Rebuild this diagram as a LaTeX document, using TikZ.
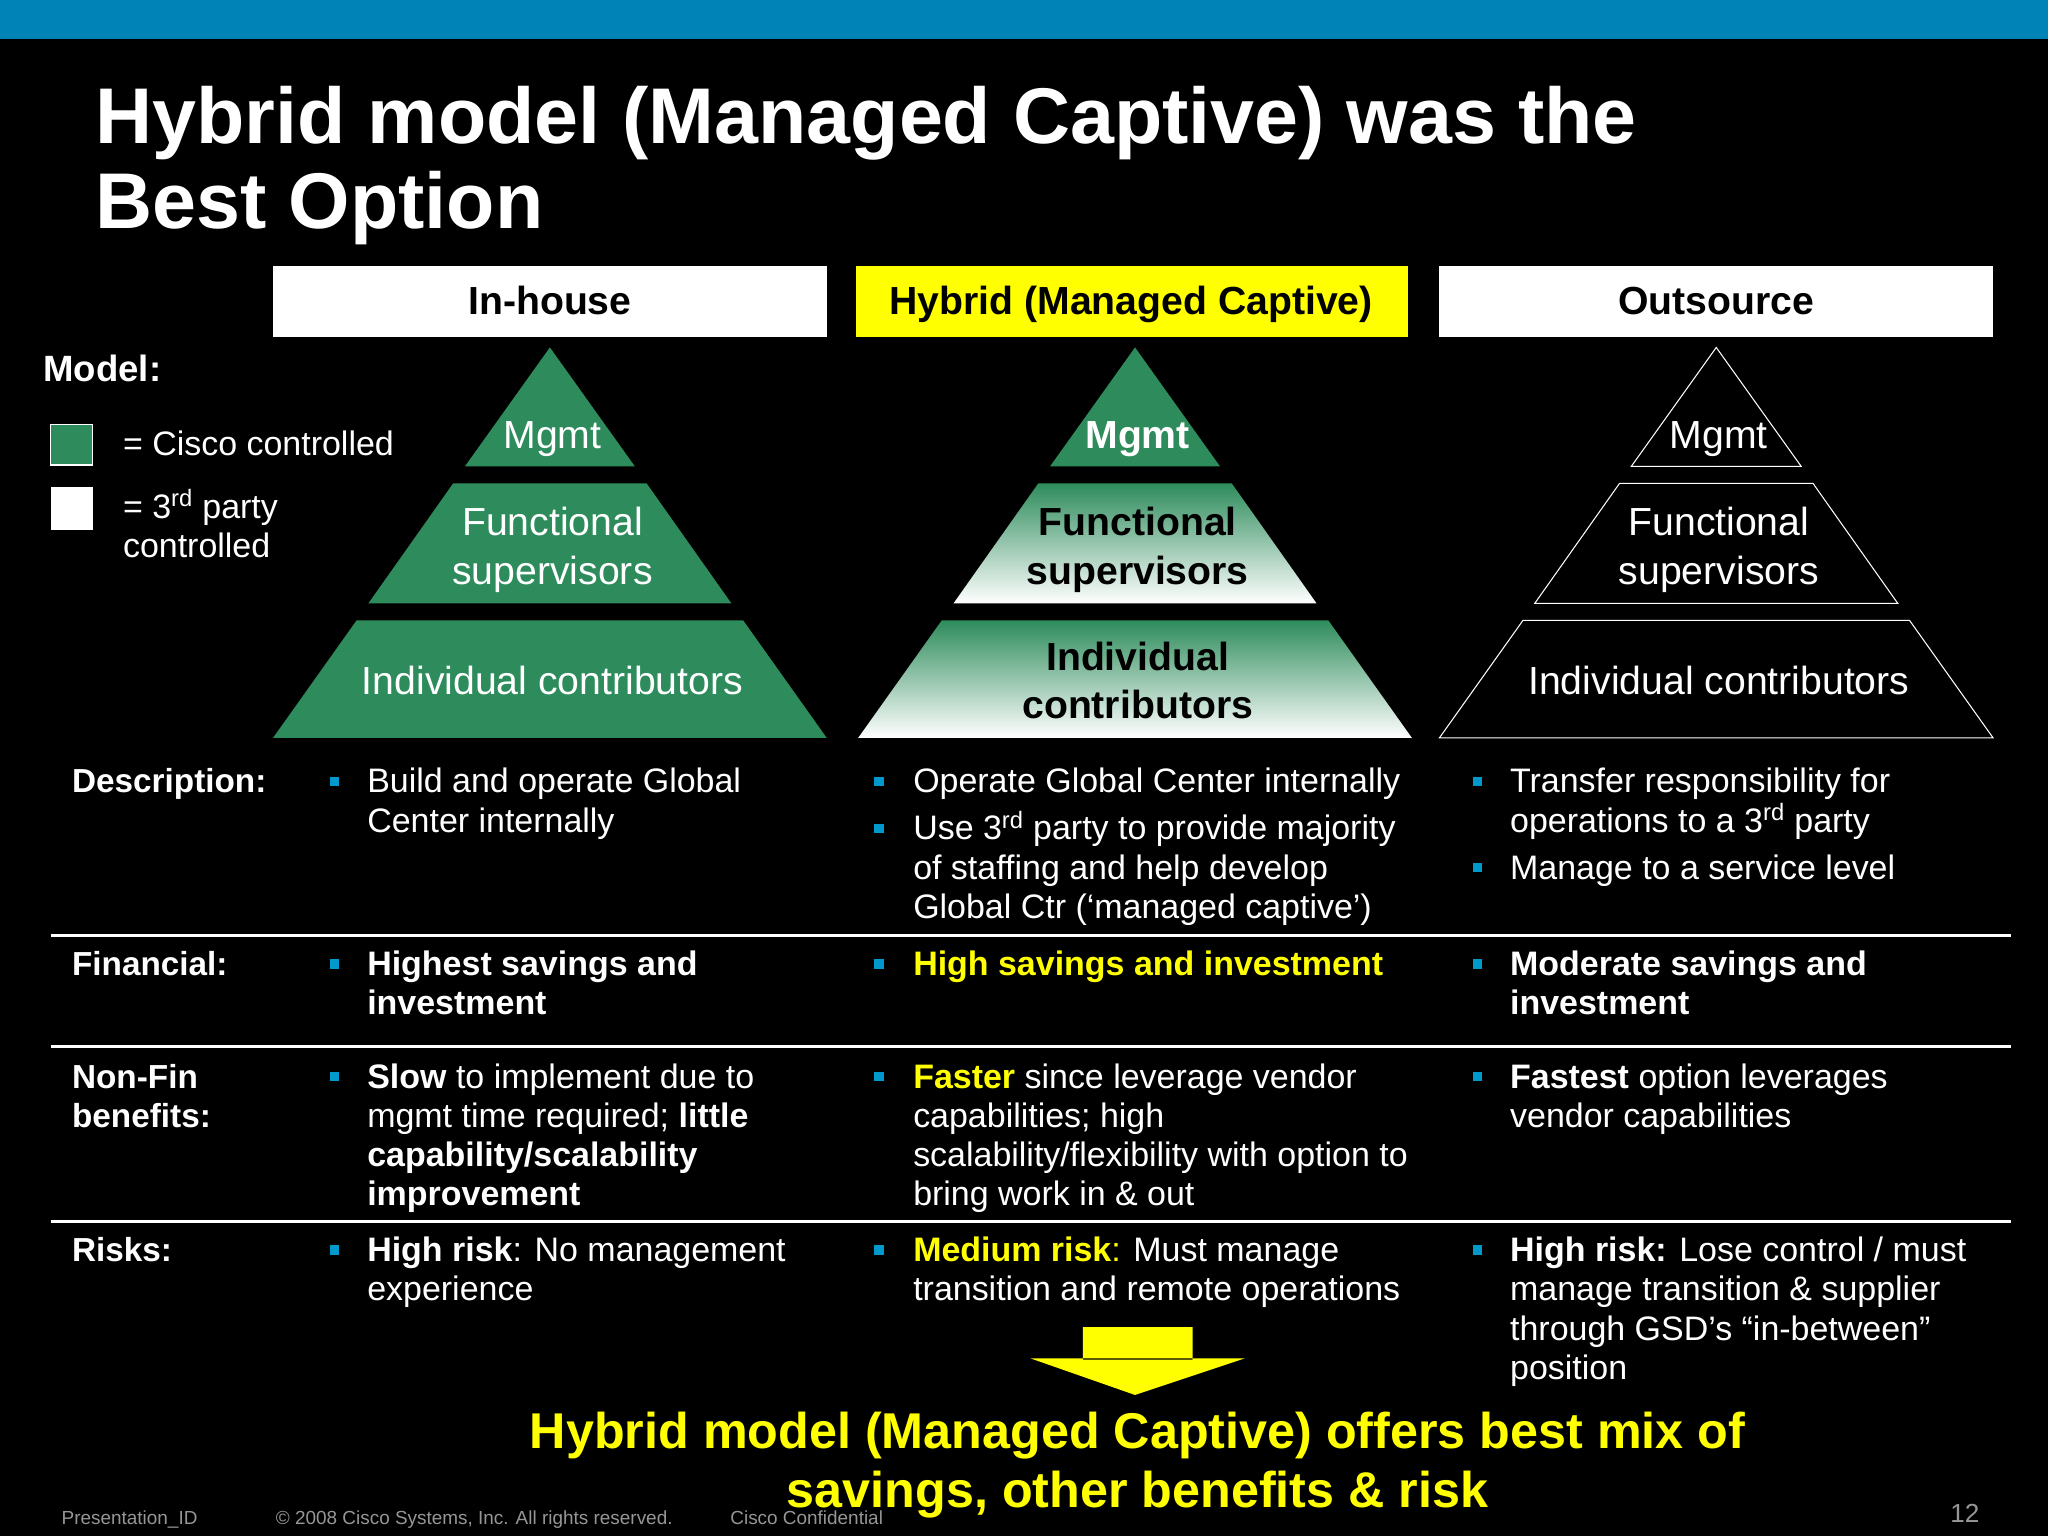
\documentclass[tikz,border=0pt]{standalone}
\usepackage{fontspec}
\setmainfont{Liberation Sans}
\definecolor{cgreen}{RGB}{46,140,92}
\definecolor{cblue}{RGB}{0,132,184}
\definecolor{bul}{RGB}{0,153,204}
\definecolor{cyel}{RGB}{255,255,0}
\definecolor{fgrey}{RGB}{150,150,150}
\tikzset{
  txt/.style={anchor=base west,inner sep=0pt,align=left,text=white,font=\fontsize{26}{30}\selectfont},
  lbl/.style={txt,font=\fontsize{25.5}{30}\selectfont\bfseries},
  btxt/.style={txt,font=\fontsize{26}{30}\selectfont\bfseries},
  hdr/.style={anchor=base,inner sep=0pt,font=\fontsize{30}{34}\selectfont\bfseries,text=black},
  pyr/.style={inner sep=0pt,align=center,font=\fontsize{30}{37}\selectfont},
  bx/.style={fill=bul,minimum size=7pt,inner sep=0pt},
  sep/.style={draw=white,line width=2pt},
  foot/.style={anchor=base west,inner sep=0pt,text=fgrey,font=\fontsize{14.5}{16}\selectfont}
}
\newcommand{\rd}{\textsuperscript{rd}}
\begin{document}
\begin{tikzpicture}[x=1pt,y=-1pt]
\fill[black] (0,0) rectangle (1568,1176);
\useasboundingbox (0,0) rectangle (1568,1176);
\fill[cblue] (0,0) rectangle (1568,30);
\node[anchor=base west,inner sep=0pt,text=white,align=left,font=\fontsize{60.5}{65}\selectfont\bfseries] (title) at (73,175) {Hybrid model (Managed Captive) was the\\Best Option};
% headers
\fill[white] (209,204) rectangle (633,258);
\node[hdr] (h1) at (421,241) {In-house};
\fill[cyel] (655,204) rectangle (1078,258);
\node[hdr] (h2) at (866,241) {Hybrid (Managed Captive)};
\fill[white] (1102,204) rectangle (1526,258);
\node[hdr] (h3) at (1314,241) {Outsource};
% legend
\node[lbl,font=\fontsize{28}{32}\selectfont\bfseries] (model) at (33,292) {Model:};
\fill[cgreen] (39,325) rectangle (71,356);
\draw[white,line width=0.8pt] (39,325) rectangle (71,356);
\fill[white] (39,373) rectangle (71,406);
\node[txt] (l1) at (94,349) {= Cisco controlled};
\node[txt] (l2) at (94,427) {= 3\rd{} party\\controlled};
% pyramids: in-house
\fill[cgreen] (421,266) -- (486,357) -- (356,357) -- cycle;
\fill[cgreen] (347,370) -- (495,370) -- (560,462) -- (282,462) -- cycle;
\fill[cgreen] (273,475) -- (569,475) -- (633,565) -- (209,565) -- cycle;
\node[pyr,text=white] (m1) at (423,336) {Mgmt};
\node[pyr,text=white] (f1) at (423,421) {Functional\\supervisors};
\node[pyr,text=white] (i1) at (423,521) {Individual contributors};
% hybrid
\fill[cgreen] (869,266) -- (934,357) -- (804,357) -- cycle;
\shade[top color=cgreen,bottom color=white] (795,370) -- (943,370) -- (1008,462) -- (730,462) -- cycle;
\shade[top color=cgreen,bottom color=white] (721,475) -- (1017,475) -- (1081,565) -- (657,565) -- cycle;
\node[pyr,text=white,font=\fontsize{30}{37}\selectfont\bfseries] (m2) at (871,336) {Mgmt};
\node[pyr,text=black,font=\fontsize{30}{37}\selectfont\bfseries] (f2) at (871,421) {Functional\\supervisors};
\node[pyr,text=black,font=\fontsize{30}{37}\selectfont\bfseries] (i2) at (871,521) {Individual\\contributors};
% outsource
\draw[white,line width=0.8pt] (1314,266) -- (1379,357) -- (1249,357) -- cycle;
\draw[white,line width=0.8pt] (1240,370) -- (1388,370) -- (1453,462) -- (1175,462) -- cycle;
\draw[white,line width=0.8pt] (1166,475) -- (1462,475) -- (1526,565) -- (1102,565) -- cycle;
\node[pyr,text=white] (m3) at (1316,336) {Mgmt};
\node[pyr,text=white] (f3) at (1316,421) {Functional\\supervisors};
\node[pyr,text=white] (i3) at (1316,521) {Individual contributors};
% row labels
\node[lbl] (rd) at (55,607) {Description:};
\node[lbl] (rf) at (55,747) {Financial:};
\node[lbl] (rn) at (55,863) {Non-Fin\\benefits:};
\node[lbl] (rr) at (55,966) {Risks:};
% separators
\draw[sep] (39,716) -- (1540,716);
\draw[sep] (39,801) -- (1540,801);
\draw[sep] (39,935) -- (1540,935);
% description
\node[bx] at (256,598) {}; \node[txt] (d1) at (281,637) {Build and operate Global\\Center internally};
\node[bx] at (673,598) {}; \node[txt] (d2a) at (699,607) {Operate Global Center internally};
\node[bx] at (673,634) {}; \node[txt] (d2b) at (699,703) {Use 3\rd{} party to provide majority\\of staffing and help develop\\Global Ctr (‘managed captive’)};
\node[bx] at (1131,598) {}; \node[txt] (d3a) at (1156,637) {Transfer responsibility for\\operations to a 3\rd{} party};
\node[bx] at (1131,664) {}; \node[txt] (d3b) at (1156,673) {Manage to a service level};
% financial
\node[bx] at (256,738) {}; \node[btxt] (fi1) at (281,777) {Highest savings and\\investment};
\node[bx] at (673,738) {}; \node[btxt,text=cyel] (fi2) at (699,747) {High savings and investment};
\node[bx] at (1131,738) {}; \node[btxt] (fi3) at (1156,777) {Moderate savings and\\investment};
% non-fin
\node[bx] at (256,824) {}; \node[txt] (n1) at (281,923) {\textbf{Slow} to implement due to\\mgmt time required; \textbf{little}\\\textbf{capability/scalability}\\\textbf{improvement}};
\node[bx] at (673,824) {}; \node[txt] (n2) at (699,923) {\textcolor{cyel}{\textbf{Faster}} since leverage vendor\\capabilities; high\\scalability/flexibility with option to\\bring work in \& out};
\node[bx] at (1131,824) {}; \node[txt] (n3) at (1156,863) {\textbf{Fastest} option leverages\\vendor capabilities};
% risks
\node[bx] at (256,957) {}; \node[txt] (r1) at (281,996) {\textbf{High risk}: No management\\experience};
\node[bx] at (673,957) {}; \node[txt] (r2) at (699,996) {\textcolor{cyel}{\textbf{Medium risk}:} Must manage\\transition and remote operations};
\node[bx] at (1131,957) {}; \node[txt] (r3) at (1156,1056) {\textbf{High risk:} Lose control / must\\manage transition \& supplier\\through GSD’s “in-between”\\position};
% arrow
\fill[cyel] (829,1016) rectangle (913,1041) (789,1040) -- (953,1040) -- (869,1068) -- cycle;
\node[anchor=base,inner sep=0pt,align=center,text=cyel,font=\fontsize{38.5}{45}\selectfont\bfseries] (concl) at (871,1154) {Hybrid model (Managed Captive) offers best mix of\\savings, other benefits \& risk};
% footer
\node[foot] (ft1) at (47,1167) {Presentation\_ID};
\node[foot] (ft2) at (211,1167) {© 2008 Cisco Systems, Inc. All rights reserved.};
\node[foot] (ft3) at (559,1167) {Cisco Confidential};
\node[foot,font=\fontsize{20}{22}\selectfont] (ft4) at (1493,1166) {12};
\end{tikzpicture}
\end{document}
